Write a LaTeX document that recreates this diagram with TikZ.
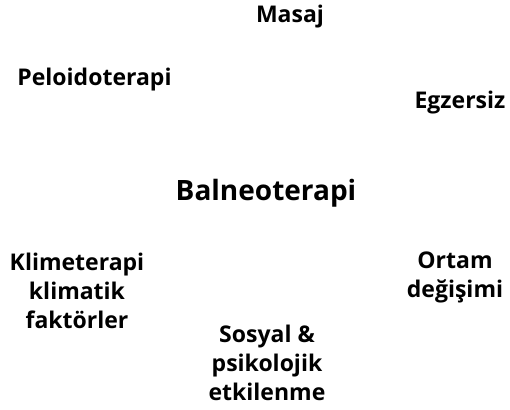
\documentclass[tikz,border=0pt]{standalone}
\usepackage{fontspec}
\setsansfont{Open Sans}
\tikzset{
  lbl/.style ={font=\sffamily\bfseries\fontsize{23}{29}\selectfont,align=center,anchor=base,inner sep=0pt},
  ctr/.style ={font=\sffamily\bfseries\fontsize{28}{32}\selectfont,anchor=base,inner sep=0pt},
}
\begin{document}
\begin{tikzpicture}[x=1pt,y=-1pt]
  \useasboundingbox (0,0) rectangle (510,409);

  % ---------- center ----------
  \node[ctr] (balneo) at (266,200) {Balneoterapi};

  % ---------- surrounding factors ----------
  \node[lbl] (masaj)  at (290,23)  {Masaj};
  \node[lbl] (peloid) at (94.5,85) {Peloidoterapi};
  \node[lbl] (egz)    at (460,108) {Egzersiz};
  \node[lbl] (klim)   at (77,328)  {Klimeterapi\\klimatik\\faktörler};
  \node[lbl] (ortam)  at (455,297) {Ortam\\değişimi};
  \node[lbl] (sosyal) at (267,400) {Sosyal \&\\psikolojik\\etkilenme};

\end{tikzpicture}
\end{document}
